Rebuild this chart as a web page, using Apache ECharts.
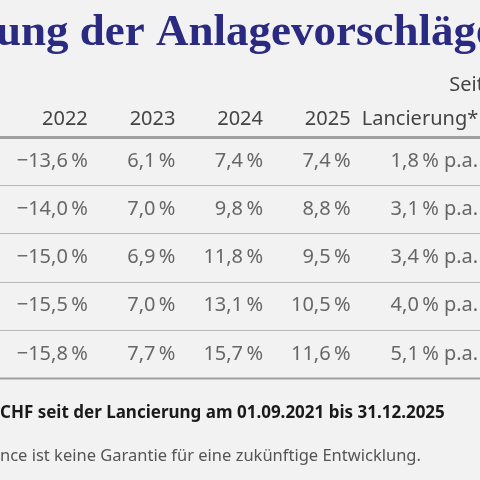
<!DOCTYPE html>
<html><head><meta charset="utf-8">
<script src="https://cdn.jsdelivr.net/npm/echarts@6/dist/echarts.min.js"></script>
<style>html,body{margin:0;padding:0;background:#f2f2f2}#c{width:480px;height:480px}</style>
</head><body><div id="c"></div>
<script>
const columns = ['2022','2023','2024','2025','Lancierung*'];
const rows = ['A','B','C','D','E'];
const v2022 = [-13.6,-14.0,-15.0,-15.5,-15.8];
const v2023 = [6.1,7.0,6.9,7.0,7.7];
const v2024 = [7.4,9.8,11.8,13.1,15.7];
const v2025 = [7.4,8.8,9.5,10.5,11.6];
const vSince = [1.8,3.1,3.4,4.0,5.1];
const FONT = '"Source Sans Pro","Noto Sans",sans-serif';
const fmt = v => (v<0?'\u2212':'') + Math.abs(v).toFixed(1).replace('.',',') + '\u2009%';
const cols = [v2022,v2023,v2024,v2025,vSince];
const series = cols.map((arr,ci)=>({
  type:'scatter', symbolSize:0, silent:true,
  data: arr.map((v,ri)=>[ci,ri,v]),
  label:{show:true, position:'inside', align:'right', verticalAlign:'middle',
    offset:[ci===4?84:44,0], fontFamily:FONT, fontSize:20, color:'#444',
    formatter:p=>fmt(p.value[2]) + (ci===4?' p.a.':'')}
}));
const chart = echarts.init(document.getElementById('c'),null,{renderer:'canvas'});
chart.setOption({
  backgroundColor:'#f2f2f2', animation:false,
  grid:{left:-2,right:42,top:137,bottom:102},
  xAxis:{type:'category',data:columns,position:'top',
    axisLine:{show:false},axisTick:{show:false},axisLabel:{show:false},splitLine:{show:false}},
  yAxis:{type:'category',data:rows,inverse:true,axisLine:{show:false},axisTick:{show:false},axisLabel:{show:false},
    splitLine:{show:false}},
  series: series
});
const gr = [];
gr.push({type:'text',left:-4,top:11,style:{text:'ung der Anlagevorschläge',font:'bold 45px "Liberation Serif",serif',fill:'#2b2a82'}});
columns.forEach((c,i)=>{
  const x = chart.convertToPixel({xAxisIndex:0},i) + (i===4?84:44);
  gr.push({type:'text',x:x,y:119,style:{text:c,font:'20px '+FONT,fill:'#444',align:'right',verticalAlign:'middle'}});
});
gr.push({type:'text',x:484,y:85,style:{text:'Seit',font:'20px '+FONT,fill:'#444',align:'right',verticalAlign:'middle'}});
const c0 = chart.convertToPixel({yAxisIndex:0},0), c1 = chart.convertToPixel({yAxisIndex:0},1);
const h = c1 - c0;
for (let i=0;i<=rows.length;i++){
  const y = Math.round(c0 - h/2 + i*h) + 0.5;
  const edge = (i===0||i===rows.length);
  gr.push({type:'line',shape:{x1:0,y1:y,x2:480,y2:y},style:{stroke:edge?'#a0a0a0':'#b8b8b8',lineWidth:i===0?3:(edge?2:1)}});
}
gr.push({type:'text',x:0,y:413,style:{text:'CHF seit der Lancierung am 01.09.2021 bis 31.12.2025',font:'bold 17px '+FONT,fill:'#1a1a1a',verticalAlign:'middle'}});
gr.push({type:'text',x:0,y:456,style:{text:'nce ist keine Garantie für eine zukünftige Entwicklung.',font:'16.5px '+FONT,fill:'#555',verticalAlign:'middle'}});
chart.setOption({graphic:gr});
</script></body></html>
